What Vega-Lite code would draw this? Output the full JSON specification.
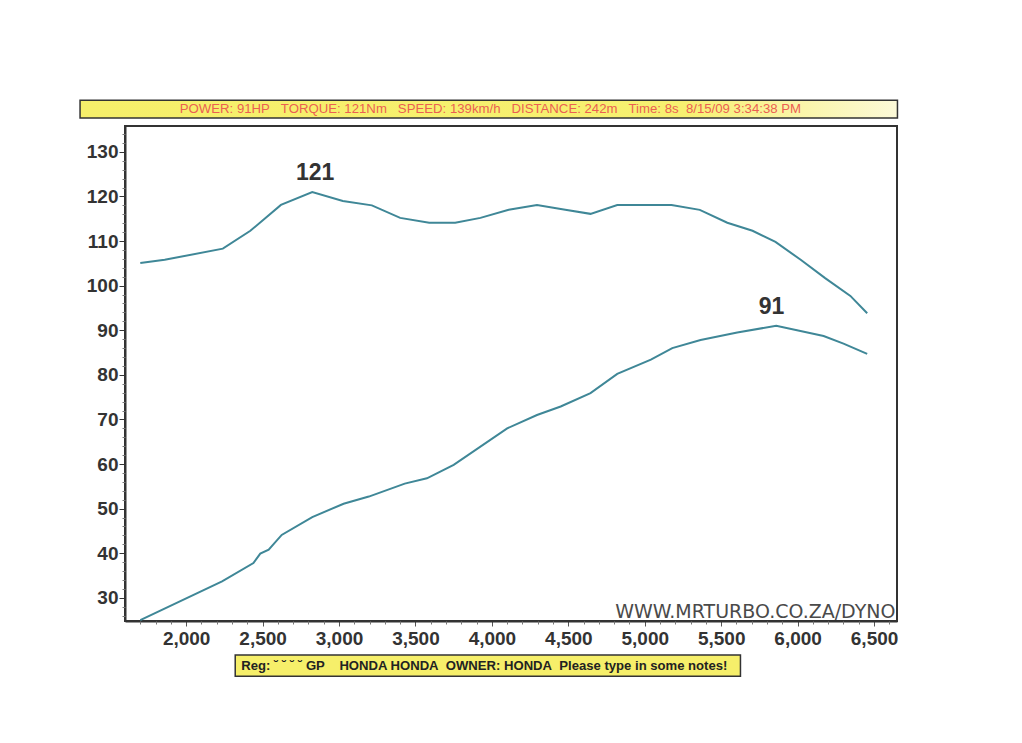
{
  "$schema": "https://vega.github.io/schema/vega-lite/v6.json",
  "width": 772,
  "height": 495,
  "autosize": {"type": "none"},
  "padding": {"left": 125, "top": 126, "right": 125, "bottom": 122},
  "background": "#ffffff",
  "config": {
    "view": {"stroke": "#333333", "strokeWidth": 2},
    "font": "Liberation Sans"
  },
  "datasets": {
    "curves": [
      {"rpm": 1700, "value": 105.1, "series": "Torque (Nm)"},
      {"rpm": 1860, "value": 105.8, "series": "Torque (Nm)"},
      {"rpm": 2240, "value": 108.3, "series": "Torque (Nm)"},
      {"rpm": 2420, "value": 112.3, "series": "Torque (Nm)"},
      {"rpm": 2620, "value": 118.1, "series": "Torque (Nm)"},
      {"rpm": 2825, "value": 121.0, "series": "Torque (Nm)"},
      {"rpm": 3025, "value": 119.0, "series": "Torque (Nm)"},
      {"rpm": 3215, "value": 118.0, "series": "Torque (Nm)"},
      {"rpm": 3400, "value": 115.2, "series": "Torque (Nm)"},
      {"rpm": 3590, "value": 114.1, "series": "Torque (Nm)"},
      {"rpm": 3760, "value": 114.1, "series": "Torque (Nm)"},
      {"rpm": 3925, "value": 115.2, "series": "Torque (Nm)"},
      {"rpm": 4110, "value": 117.0, "series": "Torque (Nm)"},
      {"rpm": 4295, "value": 118.1, "series": "Torque (Nm)"},
      {"rpm": 4480, "value": 117.0, "series": "Torque (Nm)"},
      {"rpm": 4645, "value": 116.1, "series": "Torque (Nm)"},
      {"rpm": 4820, "value": 118.1, "series": "Torque (Nm)"},
      {"rpm": 5000, "value": 118.1, "series": "Torque (Nm)"},
      {"rpm": 5175, "value": 118.1, "series": "Torque (Nm)"},
      {"rpm": 5360, "value": 117.0, "series": "Torque (Nm)"},
      {"rpm": 5540, "value": 114.1, "series": "Torque (Nm)"},
      {"rpm": 5705, "value": 112.3, "series": "Torque (Nm)"},
      {"rpm": 5855, "value": 109.8, "series": "Torque (Nm)"},
      {"rpm": 6020, "value": 105.8, "series": "Torque (Nm)"},
      {"rpm": 6180, "value": 101.7, "series": "Torque (Nm)"},
      {"rpm": 6345, "value": 97.7, "series": "Torque (Nm)"},
      {"rpm": 6455, "value": 93.8, "series": "Torque (Nm)"},
      {"rpm": 1700, "value": 25.0, "series": "Power (HP)"},
      {"rpm": 2235, "value": 33.7, "series": "Power (HP)"},
      {"rpm": 2440, "value": 37.8, "series": "Power (HP)"},
      {"rpm": 2485, "value": 39.9, "series": "Power (HP)"},
      {"rpm": 2540, "value": 40.8, "series": "Power (HP)"},
      {"rpm": 2625, "value": 44.1, "series": "Power (HP)"},
      {"rpm": 2825, "value": 48.1, "series": "Power (HP)"},
      {"rpm": 3030, "value": 51.1, "series": "Power (HP)"},
      {"rpm": 3195, "value": 52.7, "series": "Power (HP)"},
      {"rpm": 3430, "value": 55.6, "series": "Power (HP)"},
      {"rpm": 3575, "value": 56.8, "series": "Power (HP)"},
      {"rpm": 3750, "value": 59.8, "series": "Power (HP)"},
      {"rpm": 4100, "value": 68.0, "series": "Power (HP)"},
      {"rpm": 4295, "value": 71.0, "series": "Power (HP)"},
      {"rpm": 4450, "value": 72.9, "series": "Power (HP)"},
      {"rpm": 4645, "value": 75.9, "series": "Power (HP)"},
      {"rpm": 4820, "value": 80.2, "series": "Power (HP)"},
      {"rpm": 5040, "value": 83.4, "series": "Power (HP)"},
      {"rpm": 5180, "value": 86.0, "series": "Power (HP)"},
      {"rpm": 5365, "value": 87.8, "series": "Power (HP)"},
      {"rpm": 5605, "value": 89.5, "series": "Power (HP)"},
      {"rpm": 5860, "value": 91.0, "series": "Power (HP)"},
      {"rpm": 6170, "value": 88.7, "series": "Power (HP)"},
      {"rpm": 6300, "value": 87.0, "series": "Power (HP)"},
      {"rpm": 6455, "value": 84.7, "series": "Power (HP)"}
    ],
    "peaks": [
      {"rpm": 2844, "value": 125.3, "label": "121"},
      {"rpm": 5829, "value": 95.2, "label": "91"}
    ],
    "one": [{}]
  },
  "resolve": {"axis": {"x": "independent", "y": "independent"}},
  "layer": [
    {
      "data": {"name": "one"},
      "mark": {"type": "rect", "fill": {"gradient": "linear", "x1": 0, "x2": 1, "y1": 0, "y2": 0, "stops": [{"offset": 0, "color": "#f6ef6a"}, {"offset": 0.74, "color": "#f7f070"}, {"offset": 1, "color": "#fcf9d8"}]}, "stroke": "#333333", "strokeWidth": 1.5},
      "encoding": {
        "x": {"datum": 1306, "type": "quantitative", "scale": {"domain": [1600, 6650], "nice": false, "zero": false}, "axis": null},
        "x2": {"datum": 6653},
        "y": {"datum": 141.6, "type": "quantitative", "scale": {"domain": [24.8, 135.8], "nice": false, "zero": false}, "axis": null},
        "y2": {"datum": 137.6}
      }
    },
    {
      "data": {"name": "one"},
      "mark": {"type": "text", "text": "POWER: 91HP\u00a0\u00a0\u00a0TORQUE: 121Nm\u00a0\u00a0\u00a0SPEED: 139km/h\u00a0\u00a0\u00a0DISTANCE: 242m\u00a0\u00a0\u00a0Time: 8s\u00a0\u00a08/15/09 3:34:38 PM", "fontSize": 13.2, "color": "#ec5f52", "align": "center", "baseline": "middle"},
      "encoding": {
        "x": {"datum": 3990, "type": "quantitative", "axis": null},
        "y": {"datum": 139.6, "type": "quantitative", "axis": null}
      }
    },
    {
      "data": {"name": "one"},
      "mark": {"type": "rect", "fill": "#f6ef6a", "stroke": "#333333", "strokeWidth": 1.5},
      "encoding": {
        "x": {"datum": 2321, "type": "quantitative", "axis": null},
        "x2": {"datum": 5626},
        "y": {"datum": 17.2, "type": "quantitative", "axis": null},
        "y2": {"datum": 12.4}
      }
    },
    {
      "data": {"name": "one"},
      "mark": {"type": "text", "text": "Reg: \u02d8\u00a0\u02d8\u00a0\u02d8\u00a0\u02d8\u00a0GP\u00a0\u00a0\u00a0\u00a0HONDA HONDA\u00a0\u00a0OWNER: HONDA\u00a0\u00a0Please type in some notes!", "fontSize": 13.1, "fontWeight": "bold", "color": "#222222", "align": "left", "baseline": "middle"},
      "encoding": {
        "x": {"datum": 2360, "type": "quantitative", "axis": null},
        "y": {"datum": 14.8, "type": "quantitative", "axis": null}
      }
    },
    {
      "data": {"name": "curves"},
      "transform": [{"filter": "datum.series === 'Torque (Nm)'"}],
      "mark": {"type": "line", "color": "#3f8797", "strokeWidth": 2},
      "encoding": {
        "x": {"field": "rpm", "type": "quantitative", "axis": {"orient": "bottom", "values": [2000, 2500, 3000, 3500, 4000, 4500, 5000, 5500, 6000, 6500], "format": ",d", "labelFontSize": 19, "labelFontWeight": "bold", "labelColor": "#333333", "tickColor": "#555555", "tickSize": 5, "domainColor": "#333333", "domainWidth": 2, "grid": false, "title": null, "labelPadding": 3}},
        "y": {"field": "value", "type": "quantitative", "axis": {"orient": "left", "values": [30, 40, 50, 60, 70, 80, 90, 100, 110, 120, 130], "labelFontSize": 19, "labelFontWeight": "bold", "labelColor": "#333333", "tickColor": "#333333", "tickSize": 6, "domainColor": "#333333", "domainWidth": 2, "grid": false, "title": null, "labelPadding": 1}}
      }
    },
    {
      "data": {"name": "curves"},
      "transform": [{"filter": "datum.series === 'Power (HP)'"}],
      "mark": {"type": "line", "color": "#3f8797", "strokeWidth": 2},
      "encoding": {
        "x": {"field": "rpm", "type": "quantitative", "axis": {"orient": "bottom", "values": [1700, 1800, 1900, 2100, 2200, 2300, 2400, 2600, 2700, 2800, 2900, 3100, 3200, 3300, 3400, 3600, 3700, 3800, 3900, 4100, 4200, 4300, 4400, 4600, 4700, 4800, 4900, 5100, 5200, 5300, 5400, 5600, 5700, 5800, 5900, 6100, 6200, 6300, 6400, 6600], "labels": false, "domain": false, "tickSize": 3, "tickColor": "#777777", "grid": false, "title": null}},
        "y": {"field": "value", "type": "quantitative", "axis": {"orient": "left", "values": [26, 28, 32, 34, 36, 38, 42, 44, 46, 48, 52, 54, 56, 58, 62, 64, 66, 68, 72, 74, 76, 78, 82, 84, 86, 88, 92, 94, 96, 98, 102, 104, 106, 108, 112, 114, 116, 118, 122, 124, 126, 128, 132, 134], "labels": false, "domain": false, "tickSize": 3, "tickColor": "#777777", "grid": false, "title": null}}
      }
    },
    {
      "data": {"name": "peaks"},
      "mark": {"type": "text", "fontSize": 23, "fontWeight": "bold", "color": "#333333", "align": "center", "baseline": "middle"},
      "encoding": {
        "x": {"field": "rpm", "type": "quantitative", "axis": null},
        "y": {"field": "value", "type": "quantitative", "axis": null},
        "text": {"field": "label"}
      }
    },
    {
      "data": {"name": "one"},
      "mark": {"type": "text", "text": "WWW.MRTURBO.CO.ZA/DYNO", "fontSize": 19, "color": "#4a4a4a", "align": "right", "baseline": "middle", "font": "DejaVu Sans"},
      "encoding": {
        "x": {"datum": 6640, "type": "quantitative", "axis": null},
        "y": {"datum": 26.9, "type": "quantitative", "axis": null}
      }
    }
  ]
}
